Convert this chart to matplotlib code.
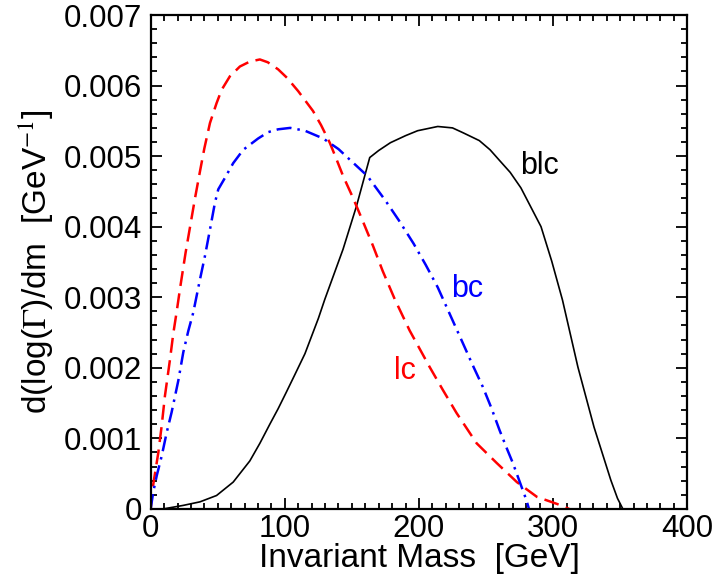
import numpy as np
import matplotlib
matplotlib.use("Agg")
from matplotlib import pyplot as plt
from matplotlib.ticker import MultipleLocator, FixedFormatter, FixedLocator

plt.rcParams['font.family'] = ['Liberation Sans', 'DejaVu Sans']
plt.rcParams['mathtext.fontset'] = 'stix'

# values
lc_m = [0, 0.7, 2.5, 5.7, 8.2, 10.6, 14.4, 16.8, 19.4, 22, 26, 30, 33, 36.7, 40,
        44.2, 49.1, 52.9, 59, 66.5, 73.9, 81.4, 87.3, 95, 101.6, 110, 121, 127,
        133.5, 138, 143.4, 150.8, 157, 165.7, 173, 182, 193, 208, 218, 228, 243,
        258, 273, 288, 303, 312]
lc_v = [0, 0.00019, 0.00042, 0.0008, 0.00118, 0.0016, 0.00212, 0.00248, 0.0028,
        0.00314, 0.00363, 0.00407, 0.0044, 0.00478, 0.00511, 0.00547, 0.00575,
        0.00594, 0.00613, 0.00627, 0.00634, 0.00637, 0.00633, 0.00623, 0.00611,
        0.00592, 0.00564, 0.00544, 0.00519, 0.00498, 0.00472, 0.00441, 0.00413,
        0.00373, 0.00337, 0.00297, 0.00253, 0.00201, 0.00168, 0.00136, 0.00093,
        0.00065, 0.00038, 0.00017, 0.00007, 0.0]

bc_m = [0, 0.7, 1.9, 4.5, 8.2, 11.9, 15.6, 20.6, 24.3, 28, 31.7, 36.7, 40.4, 44.2,
        47.9, 50.4, 55.3, 61.5, 69, 80.1, 87.6, 95, 104, 115, 128.6, 140, 149,
        161.5, 175, 185, 196, 205, 214, 223, 232.7, 240, 247.6, 254, 260, 265,
        270, 275, 280, 282]
bc_v = [0, 0.00009, 0.00024, 0.00047, 0.00075, 0.00108, 0.00137, 0.00182, 0.00222,
        0.00252, 0.00278, 0.00325, 0.00358, 0.00396, 0.00434, 0.00453, 0.00469,
        0.0049, 0.00509, 0.00525, 0.00534, 0.00538, 0.0054, 0.00536, 0.00525,
        0.0051, 0.00494, 0.00472, 0.00437, 0.00409, 0.00376, 0.00346, 0.00314,
        0.00276, 0.00235, 0.00204, 0.00173, 0.00143, 0.00112, 0.00088, 0.00065,
        0.00039, 0.00013, 0.0]

blc_m = [0, 9.4, 24.3, 36.7, 49.1, 61.5, 73.9, 81.4, 88.8, 95, 101, 107.4, 115,
         120, 125, 129.8, 143.4, 153.4, 163.3, 170, 178.7, 190, 199, 214, 225,
         233, 245, 253, 260, 268, 276, 291, 299, 307, 318.5, 330.5, 343, 348, 352]
blc_v = [0, 0.0, 0.00005, 0.0001, 0.00019, 0.00038, 0.00068, 0.00093, 0.0012,
         0.00142, 0.00165, 0.0019, 0.0022, 0.00245, 0.0027, 0.00297, 0.00368,
         0.00429, 0.00498, 0.00508, 0.00519, 0.00529, 0.00536, 0.00542, 0.0054,
         0.00533, 0.00522, 0.00509, 0.00494, 0.00477, 0.00455, 0.0040, 0.00351,
         0.00296, 0.00201, 0.00116, 0.00041, 0.00015, 0.0]

yticks = [0, 0.001, 0.002, 0.003, 0.004, 0.005, 0.006, 0.007]
ytick_labels = ['0', '0.001', '0.002', '0.003', '0.004', '0.005', '0.006', '0.007']
xticks = [0, 100, 200, 300, 400]
xtick_labels = ['0', '100', '200', '300', '400']

fig = plt.figure(figsize=(7.28, 5.77), dpi=100)
ax = fig.add_axes([0.207, 0.118, 0.737, 0.856])

ax.plot(blc_m, blc_v, color='black', lw=1.2)
ax.plot(lc_m, lc_v, color='red', lw=1.8, linestyle=(0, (6, 3)))
ax.plot(bc_m, bc_v, color='blue', lw=1.8, linestyle=(0, (6, 2.4, 1, 2.4)))

ax.text(290, 0.00486, 'blc', color='black', fontsize=22, ha='center', va='center')
ax.text(235.7, 0.00312, 'bc', color='blue', fontsize=22, ha='center', va='center')
ax.text(189.5, 0.00196, 'lc', color='red', fontsize=22, ha='center', va='center')

ax.set_xlim(0, 400)
ax.set_ylim(0, 0.007)
ax.xaxis.set_major_locator(FixedLocator(xticks))
ax.xaxis.set_major_formatter(FixedFormatter(xtick_labels))
ax.yaxis.set_major_locator(FixedLocator(yticks))
ax.yaxis.set_major_formatter(FixedFormatter(ytick_labels))
ax.xaxis.set_minor_locator(MultipleLocator(10))
ax.yaxis.set_minor_locator(MultipleLocator(0.0002))
ax.tick_params(which='both', direction='in', top=True, right=True, width=1.3)
ax.tick_params(which='major', length=8, labelsize=22.5, pad=6)
ax.tick_params(axis='x', which='major', pad=4)
ax.tick_params(which='minor', length=4.5)
for s in ax.spines.values():
    s.set_linewidth(1.6)

ax.set_xlabel('Invariant Mass  [GeV]', fontsize=24, labelpad=-1)
ax.set_ylabel(r'd(log($\Gamma$)/dm  [GeV$^{-1}$]', fontsize=24, labelpad=6)

fig.savefig('out.png', dpi=100)
